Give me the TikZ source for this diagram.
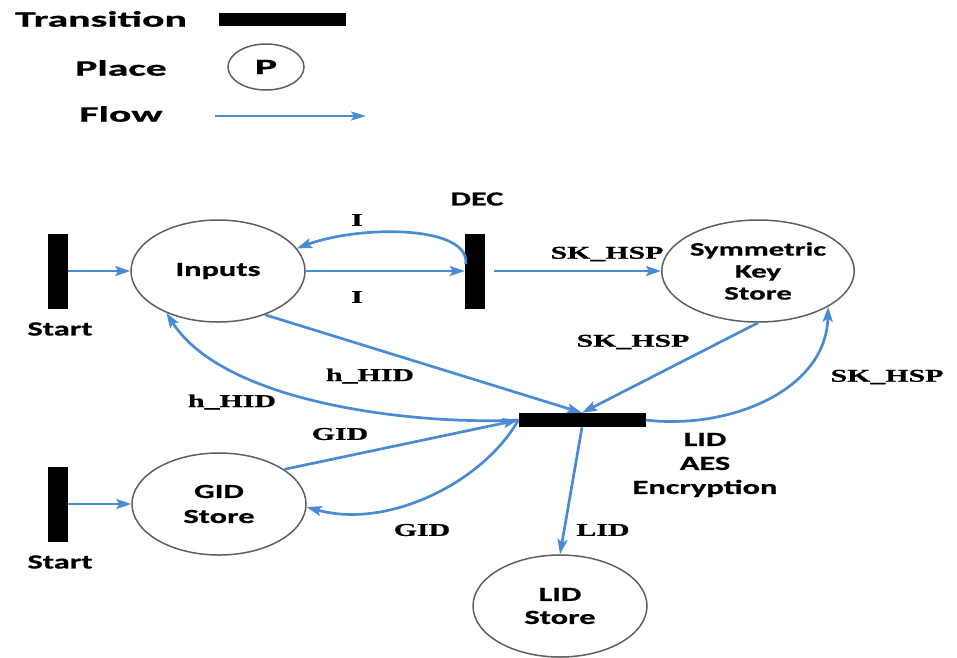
\documentclass[tikz,border=0pt]{standalone}
\usepackage{fontspec}
\usetikzlibrary{shapes.geometric,arrows.meta,calc}
\newfontfamily\legfont[FakeStretch=1.9,FakeBold=1]{Carlito}
\newfontfamily\nodefont[FakeStretch=1.62,FakeBold=0.8]{Carlito}
\newfontfamily\lblfont[FakeStretch=1.66,FakeBold=0.8]{Liberation Serif}
\definecolor{flowblue}{RGB}{74,140,212}
\definecolor{placegray}{RGB}{95,95,95}
\begin{document}
\begin{tikzpicture}[x=1pt,y=-1pt,
  place/.style={ellipse, draw=placegray, line width=1.5pt, minimum width=174pt, minimum height=102pt, inner sep=0pt, align=center, font=\nodefont\bfseries\fontsize{20}{25}\selectfont},
  vbar/.style={fill=black, minimum width=20pt, minimum height=75pt, inner sep=0pt},
  hbar/.style={fill=black, minimum width=127pt, minimum height=14pt, inner sep=0pt},
  sanslbl/.style={font=\nodefont\bfseries\fontsize{20}{24}\selectfont, align=center, inner sep=0pt},
  leglbl/.style={font=\legfont\bfseries\fontsize{22}{26}\selectfont, inner sep=0pt},
  arclbl/.style={font=\lblfont\bfseries\fontsize{18}{22}\selectfont, inner sep=0pt},
  flow/.style={draw=flowblue, line width=2.7pt, -{Stealth[length=15pt,width=10pt,inset=3pt]}},
  legflow/.style={draw=flowblue, line width=2pt, -{Stealth[length=15pt,width=9pt,inset=3pt]}}]
\useasboundingbox (0,0) rectangle (957,657);
% legend
\node[leglbl] (ltr) at (101,19) {Transition};
\node[hbar, minimum width=127pt, minimum height=13pt] (lbar) at (282,19) {};
\node[leglbl] (lpl) at (121,68) {Place};
\node[ellipse, draw=placegray, line width=1.5pt, minimum width=76pt, minimum height=46pt, inner sep=0pt, font=\legfont\bfseries\fontsize{22}{26}\selectfont] (lplace) at (266,67) {P};
\node[leglbl] (lfl) at (121,114) {Flow};
\coordinate (lf1) at (215,116);
\coordinate (lf2) at (366,116);
\draw[legflow] (lf1) -- (lf2);
% transitions
\node[vbar] (start1) at (58,271) {};
\node[sanslbl] (s1lbl) at (60,329) {Start};
\node[vbar] (dec) at (475,271) {};
\node[sanslbl] (declbl) at (477,199) {DEC};
\node[vbar] (start2) at (58,504) {};
\node[sanslbl] (s2lbl) at (60,562) {Start};
\node[hbar] (trans) at (582,420) {};
% places
\node[place] (inputs) at (218,271) {Inputs};
\node[place, font=\nodefont\bfseries\fontsize{19}{22}\selectfont] (symkey) at (758,271) {Symmetric\\Key\\Store};
\node[place] (gid) at (219,504) {GID\\Store};
\node[place, font=\nodefont\bfseries\fontsize{20}{23}\selectfont] (lid) at (560,606) {LID\\Store};
\node[sanslbl] (enc) at (705,465) {LID\\AES\\Encryption};
% arcs
\draw[flow] (start1) -- (inputs);
\draw[flow] (start2) -- (gid);
\draw[flow] (inputs) -- (dec);
\draw[flow] ($(dec.west)+(1,-7)$) .. controls (470,225) and (360,225) .. (inputs.16);
\draw[flow, shorten <=9pt] (dec) -- (symkey);
\draw[flow] (symkey.south) -- (trans.north);
\draw[flow] (inputs.-43) -- (trans.north);
\draw[flow] (trans.west) .. controls (420,425) and (225,405) .. (inputs.-141);
\draw[flow] (gid.28) -- (trans.west);
\draw[flow] (trans.west) .. controls (485,480) and (390,530) .. (gid.-2);
\draw[flow] (trans.south) -- (lid.north);
\draw[flow] (trans.east) .. controls (730,430) and (826,390) .. (symkey.-27);
% arc labels
\node[arclbl] (li1) at (357,220) {I};
\node[arclbl] (li2) at (357,297) {I};
\node[arclbl] (lsk1) at (607,254) {SK\_HSP};
\node[arclbl] (lsk2) at (633,342) {SK\_HSP};
\node[arclbl] (lsk3) at (887,377) {SK\_HSP};
\node[arclbl] (lh1) at (370,376) {h\_HID};
\node[arclbl] (lh2) at (232,402) {h\_HID};
\node[arclbl] (lg1) at (340,434) {GID};
\node[arclbl] (lg2) at (422,530) {GID};
\node[arclbl] (llid) at (603,530) {LID};
\end{tikzpicture}
\end{document}
